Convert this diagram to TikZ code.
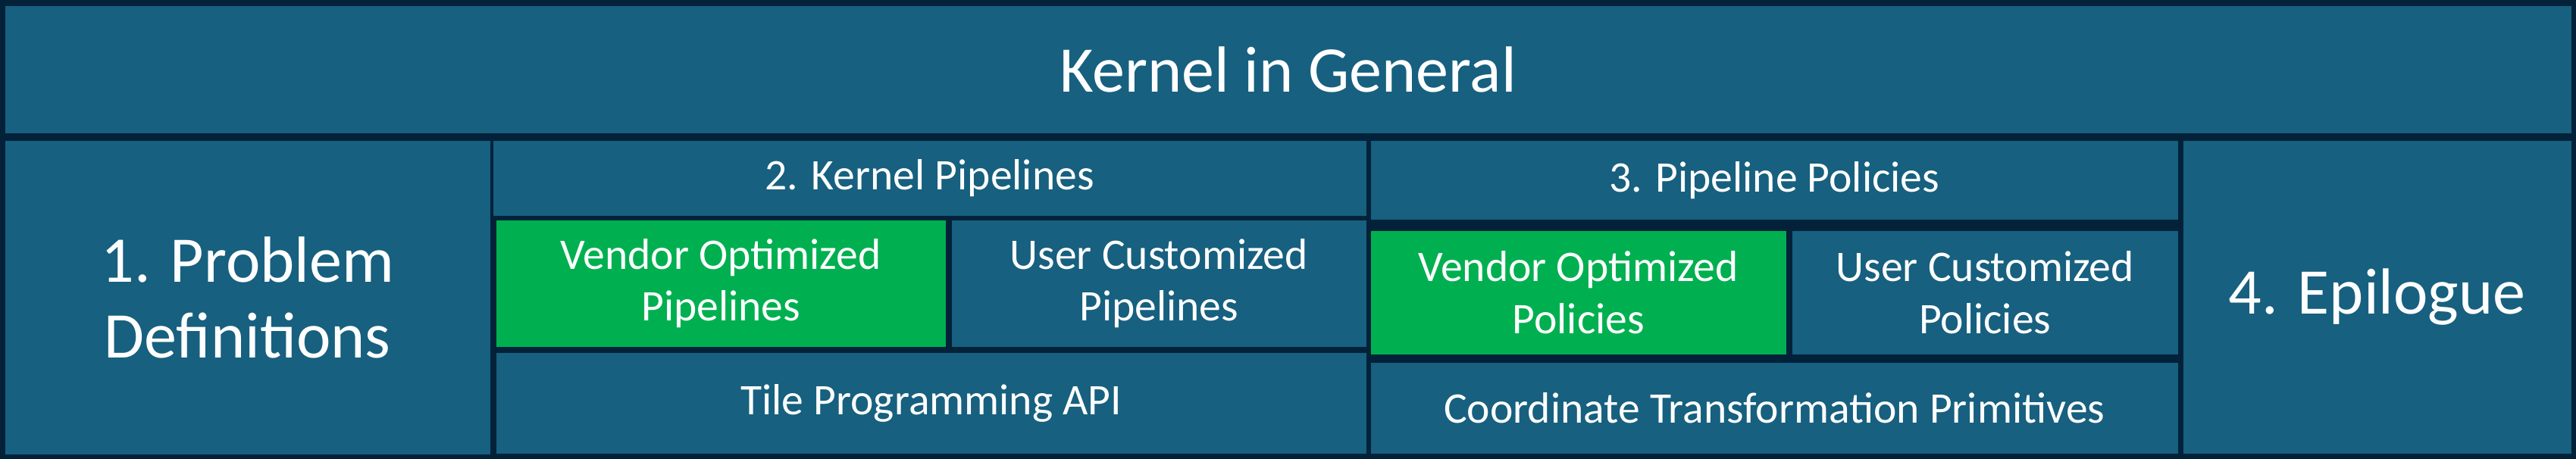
\documentclass[tikz,border=0pt]{standalone}
\usepackage{fontspec}
\setmainfont{Carlito}
\usepackage{xcolor}
\usepackage{tikz}

\definecolor{bgdark}{HTML}{03223A}
\definecolor{boxblue}{HTML}{17607F}
\definecolor{boxgreen}{HTML}{00B050}

\tikzset{
  box/.style={fill=boxblue, text=white, align=center, inner sep=0pt, anchor=north west},
  greenbox/.style={box, fill=boxgreen},
  bigtxt/.style={font=\fontsize{24.5}{28.5}\selectfont},
  midtxt/.style={font=\fontsize{16.4}{19.5}\selectfont}
}

\begin{document}
\begin{tikzpicture}
		\fill[bgdark] (0,0) rectangle (33.99,-6.06);
		\useasboundingbox (0,0) rectangle (33.99,-6.06);
		% top row
		\node[box, bigtxt, minimum width=33.86cm, minimum height=1.68cm] (general) at (0.06,-0.07) {Kernel in General};
		% left and right columns
		\node[box, bigtxt, minimum width=6.40cm, minimum height=4.14cm] (problem) at (0.06,-1.85) {1. Problem \\ Definitions};
		\node[box, bigtxt, minimum width=5.12cm, minimum height=4.13cm] (epilogue) at (28.80,-1.85) {4. Epilogue};
		% kernel pipelines
		\node[box, midtxt, minimum width=11.52cm, minimum height=0.99cm] (pipes) at (6.50,-1.85) {2. Kernel Pipelines};
		\node[greenbox, midtxt, minimum width=5.93cm, minimum height=1.67cm] (vendorpipes) at (6.54,-2.90) {Vendor Optimized \\ Pipelines};
		\node[box, midtxt, minimum width=5.47cm, minimum height=1.67cm] (userpipes) at (12.55,-2.90) {User Customized \\ Pipelines};
		\node[box, midtxt, minimum width=11.48cm, minimum height=1.33cm] (tileapi) at (6.54,-4.65) {Tile Programming API};
		% pipeline policies
		\node[box, midtxt, minimum width=10.65cm, minimum height=1.04cm] (policies) at (18.08,-1.85) {3. Pipeline Policies};
		\node[greenbox, midtxt, minimum width=5.48cm, minimum height=1.63cm] (vendorpols) at (18.08,-3.04) {Vendor Optimized \\ Policies};
		\node[box, midtxt, minimum width=5.09cm, minimum height=1.63cm] (userpols) at (23.64,-3.04) {User Customized \\ Policies};
		\node[box, midtxt, minimum width=10.65cm, minimum height=1.20cm] (coords) at (18.08,-4.78) {Coordinate Transformation Primitives};
		\end{tikzpicture}
\end{document}
